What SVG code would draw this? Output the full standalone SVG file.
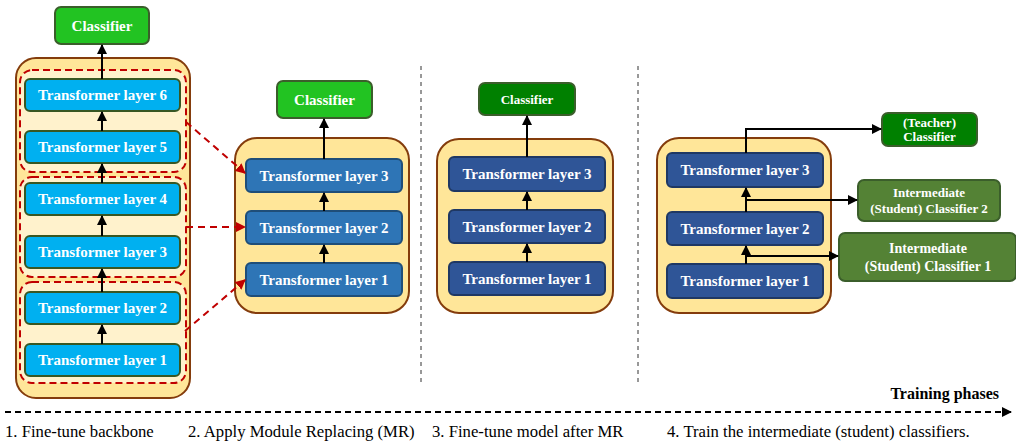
<svg xmlns="http://www.w3.org/2000/svg" width="1016" height="441" viewBox="0 0 1016 441">
<defs>
<marker id="ab" viewBox="0 0 10 10" refX="9" refY="5" markerWidth="5" markerHeight="5" orient="auto"><path d="M0,0 L10,5 L0,10 z" fill="#000"/></marker>
<marker id="ar" viewBox="0 0 10 10" refX="9" refY="5" markerWidth="5" markerHeight="5" orient="auto"><path d="M0,0 L10,5 L0,10 z" fill="#C00000"/></marker>
<style>
.outer{fill:#FFE699;stroke:#843C0C;stroke-width:2}
.grp{fill:#FFF2CC;stroke:#C00000;stroke-width:2;stroke-dasharray:7,4}
.l1{fill:#00B0F0;stroke:#385723;stroke-width:2}
.l2{fill:#2E75B6;stroke:#1F4E79;stroke-width:2}
.l3{fill:#2F5597;stroke:#1F3864;stroke-width:2}
.cb{fill:#22C322;stroke:#3B5E2B;stroke-width:2}
.cd{fill:#008000;stroke:#3B5E2B;stroke-width:2}
.ci{fill:#548235;stroke:#3B5E2B;stroke-width:2}
.t{font-family:"Liberation Serif",serif;font-weight:bold;fill:#fff;text-anchor:middle}
.ar{stroke:#000;stroke-width:2;fill:none;marker-end:url(#ab)}
.rd{stroke:#C00000;stroke-width:2;fill:none;stroke-dasharray:7,5;marker-end:url(#ar)}
.sep{stroke:#333;stroke-width:1;stroke-dasharray:4,4}
.lab{font-family:"Liberation Serif",serif;font-size:16.7px;fill:#000}
</style>
</defs>
<rect width="1016" height="441" fill="#fff"/>

<g id="phase1">
<rect class="outer" x="16" y="58" width="174" height="340" rx="20"/>
<rect class="grp" x="20" y="70" width="166" height="102" rx="12"/>
<rect class="grp" x="20" y="177" width="166" height="100" rx="12"/>
<rect class="grp" x="20" y="282" width="166" height="101" rx="12"/>
</g>
<g id="p1-classifier"><rect class="cb" x="55" y="7" width="94" height="37" rx="6"/><text class="t" x="102" y="31" font-size="15">Classifier</text></g>
<g id="p1-l6"><rect class="l1" x="25" y="79" width="155" height="32" rx="5"/><text class="t" x="102.5" y="100" font-size="15">Transformer layer 6</text></g>
<g id="p1-l5"><rect class="l1" x="25" y="131" width="155" height="32" rx="5"/><text class="t" x="102.5" y="152" font-size="15">Transformer layer 5</text></g>
<g id="p1-l4"><rect class="l1" x="25" y="183" width="155" height="32" rx="5"/><text class="t" x="102.5" y="204" font-size="15">Transformer layer 4</text></g>
<g id="p1-l3"><rect class="l1" x="25" y="236" width="155" height="32" rx="5"/><text class="t" x="102.5" y="257" font-size="15">Transformer layer 3</text></g>
<g id="p1-l2"><rect class="l1" x="25" y="292" width="155" height="32" rx="5"/><text class="t" x="102.5" y="313" font-size="15">Transformer layer 2</text></g>
<g id="p1-l1"><rect class="l1" x="25" y="344" width="155" height="32" rx="5"/><text class="t" x="102.5" y="365" font-size="15">Transformer layer 1</text></g>

<g id="phase2"><rect class="outer" x="235" y="138" width="174" height="175" rx="22"/></g>
<g id="p2-classifier"><rect class="cb" x="277" y="81" width="95" height="37" rx="6"/><text class="t" x="324.5" y="105" font-size="15">Classifier</text></g>
<g id="p2-l3"><rect class="l2" x="246" y="159" width="156" height="33" rx="5"/><text class="t" x="324" y="180.5" font-size="15">Transformer layer 3</text></g>
<g id="p2-l2"><rect class="l2" x="246" y="211" width="156" height="33" rx="5"/><text class="t" x="324" y="232.5" font-size="15">Transformer layer 2</text></g>
<g id="p2-l1"><rect class="l2" x="246" y="263" width="156" height="33" rx="5"/><text class="t" x="324" y="284.5" font-size="15">Transformer layer 1</text></g>

<g id="phase3"><rect class="outer" x="437" y="139" width="176" height="174" rx="22"/></g>
<g id="p3-classifier"><rect class="cd" x="479" y="83" width="96" height="32" rx="6"/><text class="t" x="527" y="103.5" font-size="13">Classifier</text></g>
<g id="p3-l3"><rect class="l3" x="449" y="157" width="156" height="34" rx="5"/><text class="t" x="527" y="179" font-size="15">Transformer layer 3</text></g>
<g id="p3-l2"><rect class="l3" x="449" y="210" width="156" height="33" rx="5"/><text class="t" x="527" y="231.5" font-size="15">Transformer layer 2</text></g>
<g id="p3-l1"><rect class="l3" x="449" y="262" width="156" height="33" rx="5"/><text class="t" x="527" y="283.5" font-size="15">Transformer layer 1</text></g>

<g id="phase4"><rect class="outer" x="657" y="138" width="174" height="175" rx="22"/></g>
<g id="p4-l3"><rect class="l3" x="667" y="153" width="156" height="34" rx="5"/><text class="t" x="745" y="175" font-size="15">Transformer layer 3</text></g>
<g id="p4-l2"><rect class="l3" x="667" y="212" width="156" height="33" rx="5"/><text class="t" x="745" y="233.5" font-size="15">Transformer layer 2</text></g>
<g id="p4-l1"><rect class="l3" x="667" y="264" width="156" height="34" rx="5"/><text class="t" x="745" y="286" font-size="15">Transformer layer 1</text></g>
<g id="p4-teacher"><rect class="cd" x="882" y="113" width="95" height="33" rx="6"/><text class="t" x="929.5" y="127" font-size="13">(Teacher)</text><text class="t" x="929.5" y="141" font-size="13">Classifier</text></g>
<g id="p4-int2"><rect class="ci" x="858" y="180" width="142" height="41" rx="6"/><text class="t" x="929" y="197" font-size="13">Intermediate</text><text class="t" x="929" y="213" font-size="13">(Student) Classifier 2</text></g>
<g id="p4-int1"><rect class="ci" x="839" y="233" width="177" height="48" rx="6"/><text class="t" x="928" y="253" font-size="14">Intermediate</text><text class="t" x="928" y="271" font-size="14">(Student) Classifier 1</text></g>

<g id="connectors">
<line class="ar" x1="102" y1="79" x2="102" y2="45"/>
<line class="ar" x1="102" y1="131" x2="102" y2="112"/>
<line class="ar" x1="102" y1="183" x2="102" y2="164"/>
<line class="ar" x1="102" y1="236" x2="102" y2="216"/>
<line class="ar" x1="102" y1="292" x2="102" y2="269"/>
<line class="ar" x1="102" y1="344" x2="102" y2="325"/>
<line class="ar" x1="324" y1="159" x2="324" y2="119"/>
<line class="ar" x1="324" y1="211" x2="324" y2="193"/>
<line class="ar" x1="324" y1="263" x2="324" y2="245"/>
<line class="ar" x1="527" y1="157" x2="527" y2="116"/>
<line class="ar" x1="527" y1="210" x2="527" y2="192"/>
<line class="ar" x1="527" y1="262" x2="527" y2="244"/>
<path class="ar" d="M746,153 V129 H881"/>
<line class="ar" x1="746" y1="212" x2="746" y2="188"/>
<path class="ar" d="M746,200 H857"/>
<line class="ar" x1="746" y1="264" x2="746" y2="246"/>
<path class="ar" d="M746,256 H838"/>
<line class="rd" x1="186" y1="122" x2="245" y2="173"/>
<line class="rd" x1="186" y1="227" x2="245" y2="227"/>
<line class="rd" x1="185" y1="331" x2="245" y2="280"/>
<line class="sep" x1="421" y1="66" x2="421" y2="386"/>
<line class="sep" x1="638" y1="66" x2="638" y2="386"/>
<line class="ar" x1="5" y1="412" x2="1011" y2="412" stroke-dasharray="6,4"/>
</g>

<g id="labels">
<text class="lab" x="999" y="399" font-size="16" font-weight="bold" text-anchor="end" style="font-size:16px">Training phases</text>
<text class="lab" x="5" y="437">1. Fine-tune backbone</text>
<text class="lab" x="188" y="437">2. Apply Module Replacing (MR)</text>
<text class="lab" x="432" y="437">3. Fine-tune model after MR</text>
<text class="lab" x="667" y="437">4. Train the intermediate (student) classifiers.</text>
</g>
</svg>
